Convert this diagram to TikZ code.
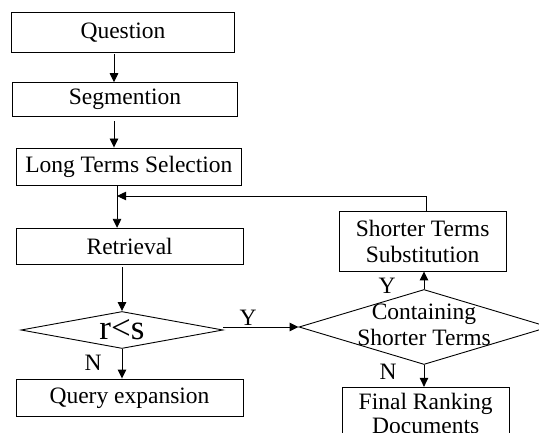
\documentclass[tikz,border=0pt]{standalone}
\usepackage{fontspec}
\setmainfont{Liberation Serif}
\usetikzlibrary{shapes.geometric,arrows.meta}
\begin{document}
\begin{tikzpicture}[x=1pt,y=-1pt,
  txt/.style={font=\fontsize{23.5}{26}\selectfont, align=center},
  box/.style={txt, draw, line width=0.9pt, inner sep=0pt},
  decision/.style={draw, diamond, aspect=5, line width=0.9pt, inner sep=0pt},
  flow/.style={draw, line width=0.9pt, -{Triangle[length=9pt,width=8.5pt]}},
  link/.style={draw, line width=0.9pt}]
\useasboundingbox (0,0) rectangle (539,433);
\clip (0,0) rectangle (539,433);

% left column
\node[box, minimum width=222.6pt, minimum height=39.6pt] (question) at (123,32.5) {Question};
\node[box, minimum width=224.6pt, minimum height=34pt] (segment) at (125,99.7) {Segmention};
\node[box, minimum width=224.3pt, minimum height=37.5pt] (longterms) at (128.85,166.75) {Long Terms Selection};
\node[box, minimum width=227.3pt, minimum height=35.7pt] (retrieval) at (129.65,246.15) {Retrieval};
\node[decision, minimum width=202pt, minimum height=37pt] (rs) at (122,330) {\fontsize{35}{40}\selectfont r<s};
\node[box, minimum width=227pt, minimum height=37.7pt] (expansion) at (129.5,397.85) {Query expansion};

% right column
\node[box, minimum width=166.7pt, minimum height=60pt] (substitute) at (422.65,241) {Shorter Terms\\Substitution};
\node[decision, minimum width=250pt, minimum height=75pt] (contain) at (424,327) {};
\node[txt] (containtext) at (424,324.5) {Containing\\Shorter Terms};
\node[box, font=\fontsize{23.5}{24}\selectfont, minimum width=166.7pt, minimum height=51.8pt] (final) at (425.65,413.2) {Final Ranking\\Documents};

% branch labels
\node[txt] (ylab1) at (248,318) {Y};
\node[txt] (nlab1) at (93,363) {N};
\node[txt] (ylab2) at (387,286) {Y};
\node[txt] (nlab2) at (388,371.5) {N};

% connectors
\coordinate (qs) at ([xshift=-9pt]question.south);
\draw[flow, shorten <=1.5pt] (qs) -- (qs |- segment.north);
\coordinate (ss) at ([xshift=-11pt]segment.south);
\draw[flow, shorten <=4pt] (ss) -- (ss |- longterms.north);
\coordinate (ls) at ([xshift=-11.8pt]longterms.south);
\draw[flow] (ls) -- (ls |- retrieval.north);
\coordinate (fbk) at (0,196);
\coordinate (join) at (ls |- fbk);
\coordinate (sn) at ([xshift=4pt]substitute.north);
\draw[flow] (sn) |- (join);
\draw[flow, shorten <=3pt] (rs.north |- retrieval.south) -- (rs.north);
\draw[flow] (rs.south) -- (rs.south |- expansion.north);
\draw[flow] (rs.east |- contain.west) -- (contain.west);
\draw[flow] (contain.north) -- (contain.north |- substitute.south);
\draw[flow] (contain.south) -- (contain.south |- final.north);
\end{tikzpicture}
\end{document}
